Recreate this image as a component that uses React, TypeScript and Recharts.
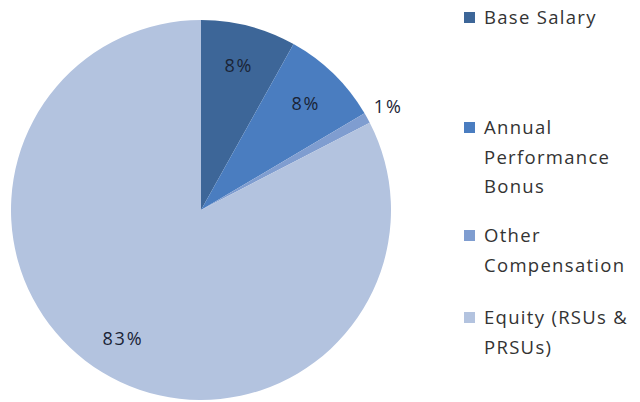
import React from "react";
import { PieChart, Pie, Cell, Legend } from "recharts";

const categories = ["Base Salary", "Annual Performance Bonus", "Other Compensation", "Equity (RSUs & PRSUs)"];
const values = [8.1, 8.4, 0.9, 82.6];
const legendLines = [["Base Salary"], ["Annual", "Performance", "Bonus"], ["Other", "Compensation"], ["Equity (RSUs &", "PRSUs)"]];
const colors = ["#3D6698", "#4A7DC0", "#7F9DD0", "#B3C3DF"];

const data = categories.map((name, i) => ({ name, value: values[i] }));

const RAD = Math.PI / 180;

const renderLabel = (props: any) => {
  const { cx, cy, midAngle, outerRadius, percent } = props;
  const r = percent < 0.03 ? outerRadius + 24 : outerRadius * 0.79;
  const x = cx + r * Math.cos(-midAngle * RAD);
  const y = cy + r * Math.sin(-midAngle * RAD);
  return (
    <text x={x} y={y} fill="#1a2436" textAnchor="middle" dominantBaseline="central"
      style={{ fontFamily: "Open Sans, sans-serif", fontSize: 18, letterSpacing: 1.8 }}>
      {`${Math.round(percent * 100)}%`}
    </text>
  );
};

const legendTops = [2, 112, 220, 302];

const LegendContent = () => (
  <div style={{ position: "relative", width: 180, height: 400, fontFamily: "Open Sans, sans-serif", fontSize: 18.5, color: "#333", letterSpacing: 1.3 }}>
    {legendLines.map((lines, i) => (
      <div key={i} style={{ position: "absolute", left: 0, top: legendTops[i] }}>
        <div style={{ position: "absolute", left: 0, top: 10, width: 11, height: 11, background: colors[i] }} />
        {lines.map((l, j) => (
          <div key={j} style={{ marginLeft: 20, lineHeight: "29.5px", whiteSpace: "nowrap" }}>{l}</div>
        ))}
      </div>
    ))}
  </div>
);

export default function App() {
  return (
    <div style={{ position: "absolute", left: 0, top: 0, width: 640, height: 402, background: "#fff" }}>
      <PieChart width={640} height={402} margin={{ top: 0, right: 0, bottom: 0, left: 0 }}>
        <Pie
          data={data}
          dataKey="value"
          nameKey="name"
          cx={201}
          cy={210}
          outerRadius={190}
          startAngle={90}
          endAngle={-270}
          stroke="none"
          isAnimationActive={false}
          label={renderLabel}
          labelLine={false}
        >
          {data.map((d, i) => (
            <Cell key={d.name} fill={colors[i]} />
          ))}
        </Pie>
        <Legend
          layout="vertical"
          align="right"
          verticalAlign="top"
          content={<LegendContent />}
          wrapperStyle={{ position: "absolute", left: 464, top: 0, width: 180, height: 400 }}
        />
      </PieChart>
    </div>
  );
}
